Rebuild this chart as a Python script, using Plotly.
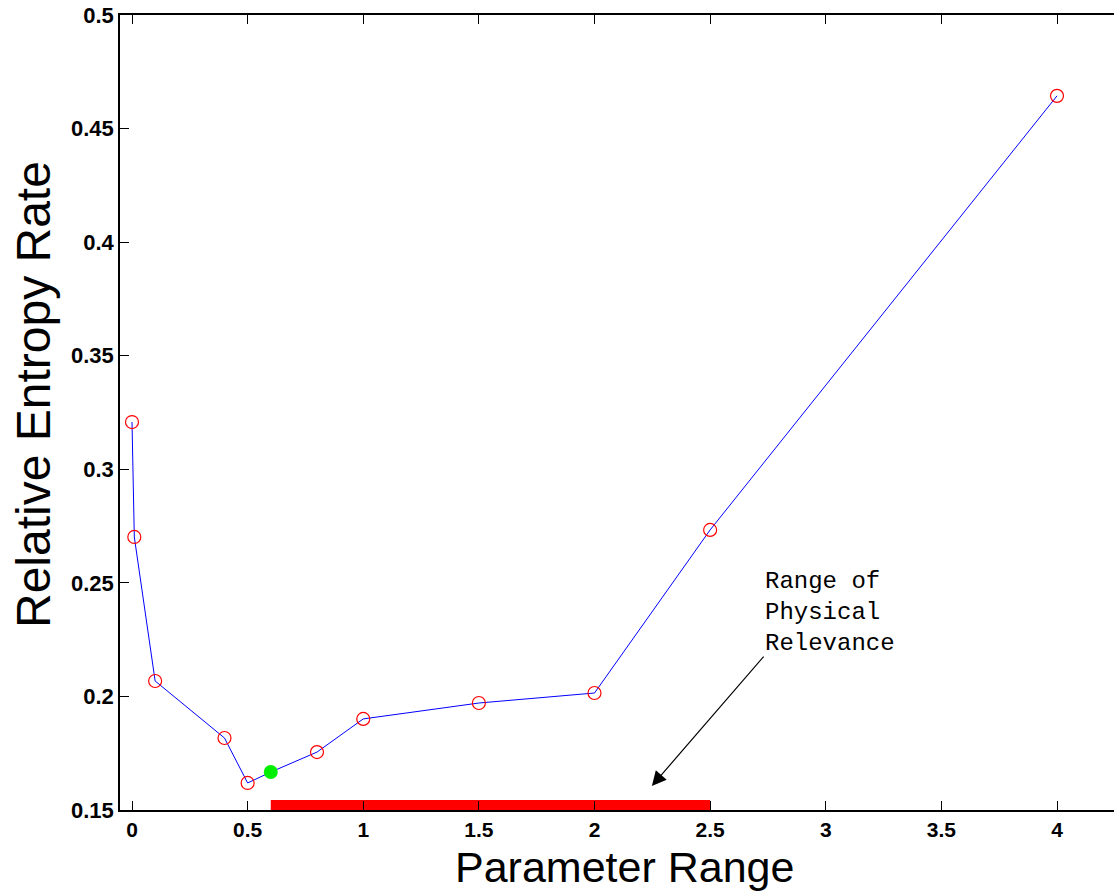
import plotly.graph_objects as go

# Data
param = [0, 0.01, 0.1, 0.4, 0.5, 0.6, 0.8, 1.0, 1.5, 2.0, 2.5, 4.0]
entropy = [0.3208, 0.2702, 0.2068, 0.1817, 0.1619, 0.1667, 0.1755, 0.1901, 0.1971, 0.2015, 0.2733, 0.4644]
highlight_x = [0.6]
highlight_y = [0.1667]
relevance_range = [0.6, 2.5]
relevance_level = [0.1522, 0.1522]
y_ticks = [0.15, 0.2, 0.25, 0.3, 0.35, 0.4, 0.45, 0.5]
y_ticktext = ["0.15", "0.2", "0.25", "0.3", "0.35", "0.4", "0.45", "0.5"]
x_ticks = [0, 0.5, 1, 1.5, 2, 2.5, 3, 3.5, 4]
x_ticktext = ["0", "0.5", "1", "1.5", "2", "2.5", "3", "3.5", "4"]

fig = go.Figure()

# red bar: range of physical relevance
fig.add_trace(go.Scatter(
    x=relevance_range, y=relevance_level, mode="lines",
    line=dict(color="#ff0000", width=10), hoverinfo="skip", showlegend=False))

# blue line
fig.add_trace(go.Scatter(
    x=param, y=entropy, mode="lines",
    line=dict(color="#0000ff", width=1), showlegend=False))

# red open circle markers (excluding the highlighted point)
mx = [p for p in param if p not in highlight_x]
my = [e for p, e in zip(param, entropy) if p not in highlight_x]
fig.add_trace(go.Scatter(
    x=mx, y=my, mode="markers",
    marker=dict(symbol="circle-open", size=13, color="#ff0000", line=dict(width=1.2, color="#ff0000")),
    showlegend=False))

# green highlighted point
fig.add_trace(go.Scatter(
    x=highlight_x, y=highlight_y, mode="markers",
    marker=dict(symbol="circle", size=14, color="#00ee00", line=dict(width=0)),
    showlegend=False))

# text annotation
fig.add_annotation(
    x=2.730, y=0.2165, xref="x", yref="y",
    text="Range of<br>Physical<br>Relevance",
    showarrow=False, xanchor="left", yanchor="bottom", align="left",
    font=dict(family="Liberation Mono, Courier New, monospace", size=24, color="black"))

# arrow
fig.add_annotation(
    x=2.248, y=0.1606, xref="x", yref="y",
    ax=2.737, ay=0.2182, axref="x", ayref="y",
    text="", showarrow=True, arrowhead=2, arrowsize=2.4, arrowwidth=1.2, arrowcolor="black")

# axis titles as annotations for precise placement
fig.add_annotation(
    x=(624 - 120) / 994, y=-(867 - 810) / 795, xref="paper", yref="paper",
    text="Parameter Range", showarrow=False, xanchor="center", yanchor="middle",
    font=dict(family="Liberation Sans, Arial, sans-serif", size=43, color="black"))
fig.add_annotation(
    x=-(120 - 33) / 994, y=(810 - 395) / 795, xref="paper", yref="paper",
    text="Relative Entropy Rate", textangle=-90, showarrow=False,
    xanchor="center", yanchor="middle",
    font=dict(family="Liberation Sans, Arial, sans-serif", size=48, color="black"))

fig.update_layout(
    width=1114, height=892,
    margin=dict(l=120, r=0, t=15, b=82),
    paper_bgcolor="white", plot_bgcolor="white",
    font=dict(family="Liberation Sans, Arial, sans-serif", color="black"),
)

fig.update_xaxes(
    range=[-0.0519, 4.2465],
    tickvals=x_ticks, ticktext=x_ticktext,
    ticks="inside", ticklen=9, tickwidth=1, tickcolor="black",
    showline=True, linecolor="black", linewidth=1.5, mirror="ticks",
    showgrid=False, zeroline=False,
    tickfont=dict(family="Liberation Sans, Arial, sans-serif", size=21, weight="bold"),
)

fig.update_yaxes(
    range=[0.15, 0.5],
    tickvals=y_ticks, ticktext=y_ticktext,
    ticks="inside", ticklen=9, tickwidth=1, tickcolor="black",
    showline=True, linecolor="black", linewidth=1.5, mirror=False,
    showgrid=False, zeroline=False,
    tickfont=dict(family="Liberation Sans, Arial, sans-serif", size=22, weight="bold"),
)

fig.write_html("out.html")
